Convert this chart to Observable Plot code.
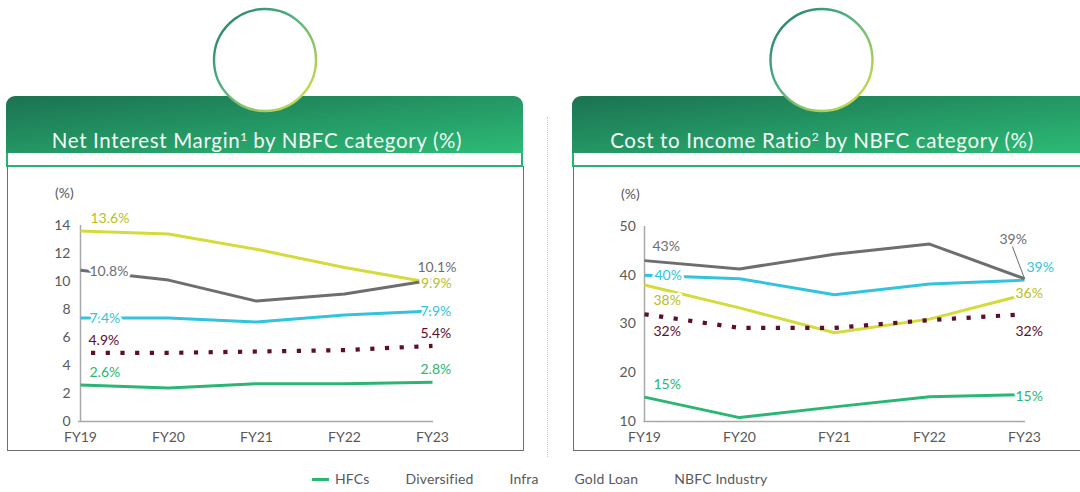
<!DOCTYPE html>
<html><head><meta charset="utf-8">
<script src="https://cdn.jsdelivr.net/npm/d3@7"></script>
<script src="https://cdn.jsdelivr.net/npm/@observablehq/plot@0.6"></script>
<style>
body{margin:0;background:#fff;font-family:Lato,"Noto Sans",sans-serif;}
#wrap{position:relative;width:1080px;height:492px;overflow:hidden;background:#fff;}
.abs{position:absolute;}
.hdr{position:absolute;top:96px;height:57px;border-radius:9px 9px 0 0;background:linear-gradient(to bottom right,#1b7252,#2dbb76);}
.htxt{position:absolute;top:32px;left:0;right:0;line-height:24px;color:#f4fbf7;font-size:20.5px;letter-spacing:0.65px;text-align:center;white-space:nowrap;}
.htxt sup{font-size:12px;vertical-align:7px;line-height:0;letter-spacing:0;}
.strip{position:absolute;top:153px;height:13.5px;border:2px solid #2ab370;border-top:0;box-sizing:border-box;background:#fff;}
.panel{position:absolute;top:166px;height:284.5px;border:1.2px solid #6d6e71;border-top:0;box-sizing:border-box;z-index:3;pointer-events:none;}
.divider{position:absolute;left:546.5px;top:117px;height:340px;border-left:1.2px dotted #c8c8c8;z-index:3;}
.pct{position:absolute;font-size:14px;color:#58595b;line-height:16px;}
.plot{position:absolute;top:170px;z-index:1;}
#legend{position:absolute;left:312px;top:470px;font-size:14px;letter-spacing:0.15px;color:#58595b;display:flex;align-items:center;white-space:nowrap;line-height:18px;}
#legend .sw{display:inline-block;width:17px;height:3px;margin-right:6px;}
#legend .it{display:flex;align-items:center;margin-right:13px;}
</style></head>
<body>
<div id="wrap">
  <svg class="abs" style="left:0;top:0;z-index:4" width="1080" height="130">
    <defs>
      <linearGradient id="cg" x1="0" y1="0" x2="1" y2="1">
        <stop offset="0" stop-color="#1f7a5e"/>
        <stop offset="0.4" stop-color="#4fae85"/>
        <stop offset="1" stop-color="#e2e43a"/>
      </linearGradient>
    </defs>
    <circle cx="265" cy="60" r="51" fill="#fff" stroke="url(#cg)" stroke-width="2.4"/>
    <circle cx="821.5" cy="60" r="51" fill="#fff" stroke="url(#cg)" stroke-width="2.4"/>
  </svg>
  <div class="hdr" style="left:6px;width:517px;"><div class="htxt" style="padding-right:15px">Net Interest Margin<sup>1</sup> by NBFC category (%)</div></div>
  <div class="hdr" style="left:572px;width:520px;"><div class="htxt" style="padding-right:20px">Cost to Income Ratio<sup>2</sup> by NBFC category (%)</div></div>
  <div class="strip" style="left:6px;width:517px;"></div>
  <div class="strip" style="left:572px;width:520px;"></div>
  <div class="panel" style="left:7px;width:517px;"></div>
  <div class="panel" style="left:572.5px;width:520px;"></div>
  <div class="divider"></div>
  <div class="pct" style="left:55px;top:185px;">(%)</div>
  <div class="pct" style="left:621px;top:186px;">(%)</div>
  <div id="left" class="plot" style="left:0;"></div>
  <div id="right" class="plot" style="left:540px;"></div>
  <div id="legend"></div>
</div>
<script>
// ---------- data ----------
const years = ["FY19", "FY20", "FY21", "FY22", "FY23"];
const series = ["HFCs", "Diversified", "Infra", "Gold Loan", "NBFC Industry"];

const nimHFCs        = [2.6, 2.4, 2.7, 2.7, 2.8];
const nimDiversified = [10.8, 10.1, 8.6, 9.1, 10.1];
const nimInfra       = [7.4, 7.4, 7.1, 7.6, 7.9];
const nimGoldLoan    = [13.6, 13.4, 12.3, 11.0, 9.9];
const nimIndustry    = [4.9, 4.9, 5.0, 5.1, 5.4];

const cirHFCs        = [15, 10.8, 13.0, 15.1, 15.5];
const cirDiversified = [43, 41.3, 44.3, 46.4, 39.3];
const cirInfra       = [40, 39.3, 36.0, 38.2, 39];
const cirGoldLoan    = [38, 33.3, 28.2, 31.0, 36];
const cirIndustry    = [32, 29.2, 29.2, 30.8, 32];

const nimLabelsFirst = ["2.6%", "10.8%", "7.4%", "13.6%", "4.9%"];
const nimLabelsLast  = ["2.8%", "10.1%", "7.9%", "9.9%", "5.4%"];
const cirLabelsFirst = ["15%", "43%", "40%", "38%", "32%"];
const cirLabelsLast  = ["15%", "39%", "39%", "36%", "32%"];

const nimTicks = [0, 2, 4, 6, 8, 10, 12, 14];
const cirTicks = [10, 20, 30, 40, 50];

// ---------- styles ----------
const colors = {"HFCs":"#2bb673","Diversified":"#6d6e71","Infra":"#33c3dd","Gold Loan":"#d3dc3a","NBFC Industry":"#5e0d2c"};
const labelColors = {"HFCs":"#2bb673","Diversified":"#6d6e71","Infra":"#33c3dd","Gold Loan":"#b8be1c","NBFC Industry":"#5e0d2c"};
const drawOrder = ["HFCs","Infra","Gold Loan","Diversified","NBFC Industry"];
const font = "Lato, 'Noto Sans', sans-serif";

// label offsets (px) per series: [dx, dy]
const nimFirstPos = {"HFCs":[9,-13],"Diversified":[9,1],"Infra":[9,1],"Gold Loan":[10,-13],"NBFC Industry":[8,-12]};
const nimLastPos  = {"HFCs":[-12,-12.5],"Diversified":[-15,-13],"Infra":[-12,1],"Gold Loan":[-11.5,0.5],"NBFC Industry":[-12,-12]};
const cirFirstPos = {"HFCs":[9,-12.5],"Diversified":[8,-14],"Infra":[10,0],"Gold Loan":[9,16],"NBFC Industry":[9,17]};
const cirLastPos  = {"HFCs":[-9,2],"Diversified":[-25,-39],"Infra":[2,-12.5],"Gold Loan":[-9,-1],"NBFC Industry":[-9,17]};

function rows(valueArrays) {
  const out = [];
  series.forEach((s, i) => years.forEach((y, j) => out.push({series: s, year: y, value: valueArrays[i][j]})));
  return out;
}

function makeChart(cfg) {
  const data = rows(cfg.values);
  const marks = [
    Plot.ruleY([cfg.ticks[0]], {stroke: "#a7a9ac", strokeWidth: 1.5}),
    Plot.ruleX([years[0]], {y1: cfg.ticks[0], y2: cfg.ticks[cfg.ticks.length - 1], stroke: "#a7a9ac", strokeWidth: 1.5})
  ];
  for (const s of drawOrder) {
    const d = data.filter(r => r.series === s);
    const dotted = s === "NBFC Industry";
    marks.push(Plot.line(d, {
      x: "year", y: "value", stroke: colors[s],
      strokeWidth: dotted ? 4.2 : 3,
      strokeDasharray: dotted ? "4.2 10.5" : null,
      strokeDashoffset: dotted ? cfg.dashOffset : null,
      strokeLinecap: "butt", strokeLinejoin: "round", curve: "linear"
    }));
  }
  if (cfg.leader) {
    const d = data.filter(r => r.series === cfg.leader.series && r.year === years[4]);
    marks.push(Plot.vector(d, {
      x: "year", y: "value", anchor: "start", length: cfg.leader.length, rotate: cfg.leader.rotate,
      stroke: "#6d6e71", strokeWidth: 1,
      shape: {draw(context, l) { context.moveTo(0, 0); context.lineTo(0, -l); }}
    }));
  }
  series.forEach((s, i) => {
    const first = data.filter(r => r.series === s && r.year === years[0]);
    const last = data.filter(r => r.series === s && r.year === years[4]);
    const common = {x: "year", y: "value", textAnchor: "start", fill: labelColors[s],
      stroke: "white", strokeWidth: 5, strokeLinejoin: "round", fontSize: 14, fontFamily: font};
    marks.push(Plot.text(first, {...common, text: () => cfg.labelsFirst[i], dx: cfg.firstPos[s][0], dy: cfg.firstPos[s][1]}));
    marks.push(Plot.text(last, {...common, text: () => cfg.labelsLast[i], dx: cfg.lastPos[s][0], dy: cfg.lastPos[s][1]}));
  });
  return Plot.plot({
    width: 540, height: 280,
    marginLeft: cfg.ml, marginRight: cfg.mr, marginTop: cfg.mt, marginBottom: 29,
    style: {background: "transparent", fontFamily: font, fontSize: "14px", color: "#58595b", overflow: "visible"},
    x: {type: "point", domain: years, padding: 0, tickSize: 0, tickPadding: 11, label: null},
    y: {domain: [cfg.ticks[0], cfg.ticks[cfg.ticks.length - 1]], ticks: cfg.ticks, tickSize: 0, tickPadding: 8, label: null},
    marks
  });
}

document.getElementById("left").append(makeChart({
  values: [nimHFCs, nimDiversified, nimInfra, nimGoldLoan, nimIndustry],
  labelsFirst: nimLabelsFirst, labelsLast: nimLabelsLast, ticks: nimTicks,
  firstPos: nimFirstPos, lastPos: nimLastPos,
  ml: 78, mr: 107, mt: 55, dashOffset: 4.2
}));
document.getElementById("right").append(makeChart({
  values: [cirHFCs, cirDiversified, cirInfra, cirGoldLoan, cirIndustry],
  labelsFirst: cirLabelsFirst, labelsLast: cirLabelsLast, ticks: cirTicks,
  firstPos: cirFirstPos, lastPos: cirLastPos,
  ml: 103.3, mr: 55, mt: 56, dashOffset: 0,
  leader: {series: "Diversified", length: 34, rotate: -20.6}
}));

// legend
const legend = document.getElementById("legend");
series.forEach((s, i) => {
  const it = document.createElement("div");
  it.className = "it";
  const sw = document.createElement("span");
  sw.className = "sw";
  sw.style.background = i === 0 ? colors[s] : "transparent";
  const tx = document.createElement("span");
  tx.textContent = s;
  it.append(sw, tx);
  legend.append(it);
});
</script>
</body></html>
